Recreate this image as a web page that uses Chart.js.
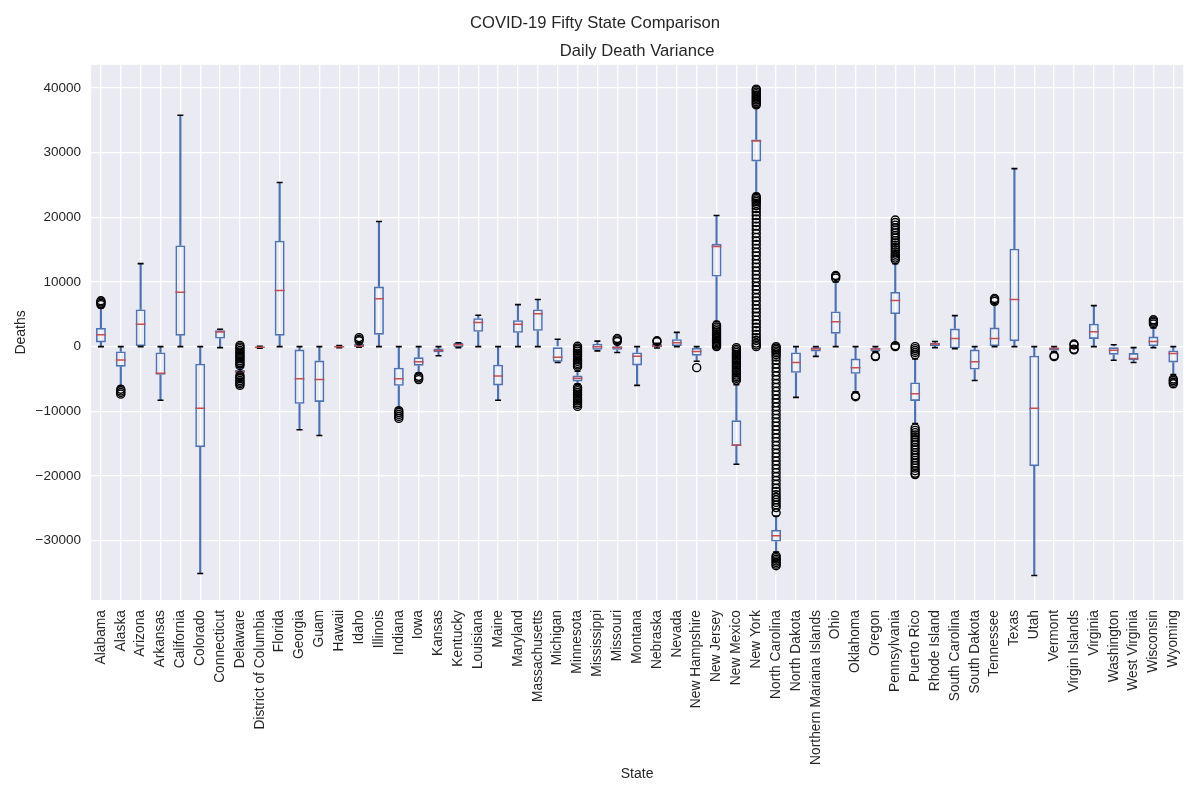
<!DOCTYPE html>
<html>
<head>
<meta charset="utf-8">
<script src="https://cdn.jsdelivr.net/npm/chart.js@4.4.0/dist/chart.umd.min.js"></script>
<style>
  body { margin: 0; background: #fff; }
  #wrap { width: 1200px; height: 800px; }
</style>
</head>
<body>
<div id="wrap"><canvas id="boxChart"></canvas></div>
<script>
const states = ["Alabama", "Alaska", "Arizona", "Arkansas", "California", "Colorado", "Connecticut", "Delaware",
  "District of Columbia", "Florida", "Georgia", "Guam", "Hawaii", "Idaho", "Illinois", "Indiana", "Iowa", "Kansas",
  "Kentucky", "Louisiana", "Maine", "Maryland", "Massachusetts", "Michigan", "Minnesota", "Mississippi", "Missouri",
  "Montana", "Nebraska", "Nevada", "New Hampshire", "New Jersey", "New Mexico", "New York", "North Carolina",
  "North Dakota", "Northern Mariana Islands", "Ohio", "Oklahoma", "Oregon", "Pennsylvania", "Puerto Rico",
  "Rhode Island", "South Carolina", "South Dakota", "Tennessee", "Texas", "Utah", "Vermont", "Virgin Islands",
  "Virginia", "Washington", "West Virginia", "Wisconsin", "Wyoming"];

const whiskerLow = [0, -6100, 0, -8300, 0, -35100, -150, -4300, -250, 0, -12850, -13750, -150, -100, 0, -9500, -4100, -1400,
  -150, 0, -8300, 0, 0, -2450, -5800, -650, -900, -6000, -200, 0, -2250, 3900, -18200, 23700, -31800,
  -7850, -1500, 0, -7000, -800, 400, -11900, -150, -300, -5250, 0, 0, -35400, -750, -250,
  0, -2100, -2450, -150, -4300];
const q1 = [650, -3100, 100, -4350, 1700, -15550, 1250, -4030, -150, 1700, -8850, -8550, -60, -50, 1850, -6050, -2950, -850,
  -100, 2300, -6000, 2150, 2450, -2350, -5380, -500, -500, -2900, -100, 100, -1400, 10850, -15350, 28650, -30150,
  -4050, -750, 2000, -4200, -750, 5050, -8400, 100, -250, -3550, 100, 850, -18500, -600, -150,
  1200, -1250, -2100, 100, -2450];
const median = [1850, -2050, 3450, -4100, 8400, -9550, 2250, -3870, -80, 8700, -4950, -5100, 0, 100, 7400, -4950, -2350, -600,
  300, 3750, -4550, 3450, 5100, -1650, -4900, 0, -150, -1500, 100, 600, -750, 15500, -15250, 31800, -29250,
  -2450, -350, 3850, -3250, -350, 7150, -7300, 400, 1250, -2350, 1250, 7300, -9550, -300, -100,
  2300, -550, -1850, 800, -1050];
const q3 = [2900, -750, 5750, -900, 15650, -2650, 2550, -3600, -20, 16400, -450, -2150, 60, 450, 9300, -3250, -1650, -300,
  550, 4400, -2800, 4100, 5750, 0, -4450, 450, 50, -900, 450, 1150, -200, 15900, -11400, 32050, -28350,
  -900, -100, 5450, -1850, -200, 8450, -5550, 600, 2800, -450, 2950, 15150, -1400, -150, 0,
  3550, 0, -1000, 1550, -600];
const whiskerHigh = [6000, 0, 12850, 0, 35800, 0, 2700, -3150, 50, 25400, 0, 0, 150, 600, 19350, 0, 0, 0,
  600, 4850, 0, 6500, 7300, 1150, -3800, 850, 400, 0, 500, 2200, 0, 20300, -5900, 37000, -26200,
  0, 0, 10000, 0, 0, 12850, -1900, 800, 4800, 0, 6600, 27550, 0, 0, 100,
  6350, 300, -150, 2900, 0];

// outliers per state, same order as states
const fliers = [
  [6500, 6700, 6900, 7100],
  [-6600, -6850, -7100, -7350],
  [], [], [], [], [],
  [200, -50, -300, -600, -850, -1100, -1400, -1650, -1900, -2200, -2450, -2700, -2950,
   -4450, -4700, -4950, -5250, -5500, -5750, -6000],
  [], [], [], [], [],
  [900, 1150, 1400],
  [],
  [-9900, -10200, -10500, -10800, -11100],
  [-4600, -4850, -5100],
  [], [], [], [], [], [], [],
  [50, -200, -450, -700, -1000, -1250, -1500, -1800, -2050, -2300, -2600, -2850, -3100,
   -6300, -6550, -6800, -7100, -7350, -7600, -7900, -8150, -8400, -8700, -8950, -9250],
  [],
  [800, 1050, 1250],
  [],
  [750, 900],
  [],
  [-3250],
  [3350, 3050, 2750, 2450, 2200, 1950, 1700, 1450, 1200, 1000, 800, 600, 400, 200, 0],
  [-150, -400, -650, -900, -1200, -1450, -1700, -2000, -2250, -2500, -2800, -3050, -3300, -3600,
   -3850, -4100, -4400, -4650, -4900, -5200],
  [37400, 37650, 37900, 38150, 38400, 38650, 38900, 39150, 39400, 39650, 39850,
   23200, 22950, 22700, 22450, 22150, 21800, 21350, 20850, 20300, 19750, 19200, 18650, 18100, 17500,
   16900, 16350, 15800, 15200, 14600, 14050, 13450, 12850, 12300, 11700, 11100, 10550, 9950, 9350,
   8800, 8200, 7600, 7050, 6450, 5850, 5300, 4700, 4100, 3550, 3000, 2450, 1900, 1400, 950, 550, 250, 0],
  [0, -200, -450, -700, -950, -1250, -1600, -2100, -2700, -3300, -3900, -4500, -5100, -5700, -6300,
   -6900, -7500, -8100, -8700, -9300, -9900, -10500, -11100, -11700, -12300, -12900, -13500, -14100,
   -14700, -15300, -15900, -16500, -17100, -17700, -18300, -18900, -19500, -20100, -20700, -21300,
   -21900, -22400, -22900, -23300, -23700, -24100, -24500, -24900, -25700,
   -32400, -32650, -32900, -33150, -33400, -33650, -33900],
  [], [],
  [10600, 10850, 11000],
  [-7600, -7750],
  [-1450, -1550],
  [13400, 13700, 14000, 14300, 14650, 15000, 15350, 15700, 16050, 16400, 16800, 17200, 17600, 18000,
   18400, 18800, 19200, 19600, 0, 150],
  [0, -300, -600, -900, -1250,
   -12600, -12950, -13300, -13650, -14000, -14400, -14800, -15200, -15600, -16000, -16400, -16800,
   -17200, -17600, -18000, -18400, -18800, -19200, -19600, -19800],
  [], [], [],
  [7000, 7250, 7450],
  [], [],
  [-1400, -1550],
  [250, 400, -400, -500],
  [], [], [],
  [3500, 3750, 3950, 4150],
  [-5000, -5250, -5500, -5750]
];

const yTicks = [-30000, -20000, -10000, 0, 10000, 20000, 30000, 40000];

const BLUE = "#4C72B0";
const RED = "#C44E52";
const TEXT = "#262626";
const FONT = "'Liberation Sans', Arial, sans-serif";

const flierPoints = [];
fliers.forEach((list, i) => list.forEach(v => flierPoints.push({ x: states[i], y: v })));

const plotBg = {
  id: "plotBg",
  beforeDraw(chart) {
    const { ctx, chartArea: a } = chart;
    ctx.save();
    ctx.fillStyle = "#EAEAF2";
    ctx.fillRect(a.left, a.top, a.right - a.left, a.bottom - a.top);
    ctx.restore();
  }
};

Chart.defaults.font.family = FONT;
Chart.defaults.color = TEXT;

new Chart(document.getElementById("boxChart"), {
  type: "bar",
  data: {
    labels: states,
    datasets: [
      {
        type: "line",
        label: "fliers",
        data: flierPoints,
        showLine: false,
        pointStyle: "circle",
        pointRadius: 4,
        pointBorderWidth: 1.4,
        pointBorderColor: "#000",
        pointBackgroundColor: "rgba(0,0,0,0)",
        order: 0
      },
      {
        type: "line",
        label: "median",
        data: median,
        showLine: false,
        pointStyle: "line",
        pointRadius: 5,
        pointBorderWidth: 1.5,
        pointBorderColor: RED,
        order: 1
      },
      {
        type: "line",
        label: "capHigh",
        data: whiskerHigh,
        showLine: false,
        pointStyle: "line",
        pointRadius: 3,
        pointBorderWidth: 1.6,
        pointBorderColor: "#000",
        order: 2
      },
      {
        type: "line",
        label: "capLow",
        data: whiskerLow,
        showLine: false,
        pointStyle: "line",
        pointRadius: 3,
        pointBorderWidth: 1.6,
        pointBorderColor: "#000",
        order: 2
      },
      {
        label: "box",
        data: states.map((s, i) => [q1[i], q3[i]]),
        backgroundColor: "rgba(0,0,0,0)",
        borderColor: BLUE,
        borderWidth: 1.6,
        borderSkipped: false,
        grouped: false,
        barPercentage: 0.5,
        categoryPercentage: 1,
        order: 3
      },
      {
        label: "whiskerUp",
        data: states.map((s, i) => [q3[i], whiskerHigh[i]]),
        backgroundColor: BLUE,
        borderWidth: 0,
        grouped: false,
        barThickness: 1.5,
        order: 4
      },
      {
        label: "whiskerDown",
        data: states.map((s, i) => [whiskerLow[i], q1[i]]),
        backgroundColor: BLUE,
        borderWidth: 0,
        grouped: false,
        barThickness: 1.5,
        order: 4
      }
    ]
  },
  options: {
    responsive: true,
    maintainAspectRatio: false,
    animation: false,
    events: [],
    layout: { padding: { left: 0, right: 10, top: 0, bottom: 0 } },
    plugins: {
      legend: { display: false },
      tooltip: { enabled: false },
      title: {
        display: true,
        text: "COVID-19 Fifty State Comparison",
        color: TEXT,
        font: { size: 16.6, weight: "normal" },
        padding: { top: 13, bottom: 4 }
      },
      subtitle: {
        display: true,
        text: "Daily Death Variance",
        color: TEXT,
        fullSize: false,
        font: { size: 16.6, weight: "normal" },
        padding: { top: 5, bottom: 3 }
      }
    },
    scales: {
      x: {
        offset: true,
        border: { display: false },
        grid: { color: "#fff", lineWidth: 1.3, offset: false, drawTicks: false },
        ticks: {
          autoSkip: false,
          minRotation: 90,
          maxRotation: 90,
          padding: 10,
          color: TEXT,
          font: { size: 13.8 }
        },
        title: {
          display: true,
          text: "State",
          color: TEXT,
          font: { size: 14 },
          padding: { top: 0, bottom: 17 }
        },
        afterFit(scale) { scale.height = 200; }
      },
      y: {
        min: -39200,
        max: 43600,
        border: { display: false },
        grid: { color: "#fff", lineWidth: 1.3, drawTicks: false },
        afterBuildTicks(scale) { scale.ticks = yTicks.map(v => ({ value: v })); },
        ticks: {
          padding: 10,
          color: TEXT,
          font: { size: 13.5 },
          callback: v => String(v).replace("-", "\u2212")
        },
        title: {
          display: true,
          text: "Deaths",
          color: TEXT,
          font: { size: 14 },
          padding: { top: 13, bottom: 0 }
        },
        afterFit(scale) { scale.width = 91; }
      }
    }
  },
  plugins: [plotBg]
});
</script>
</body>
</html>
